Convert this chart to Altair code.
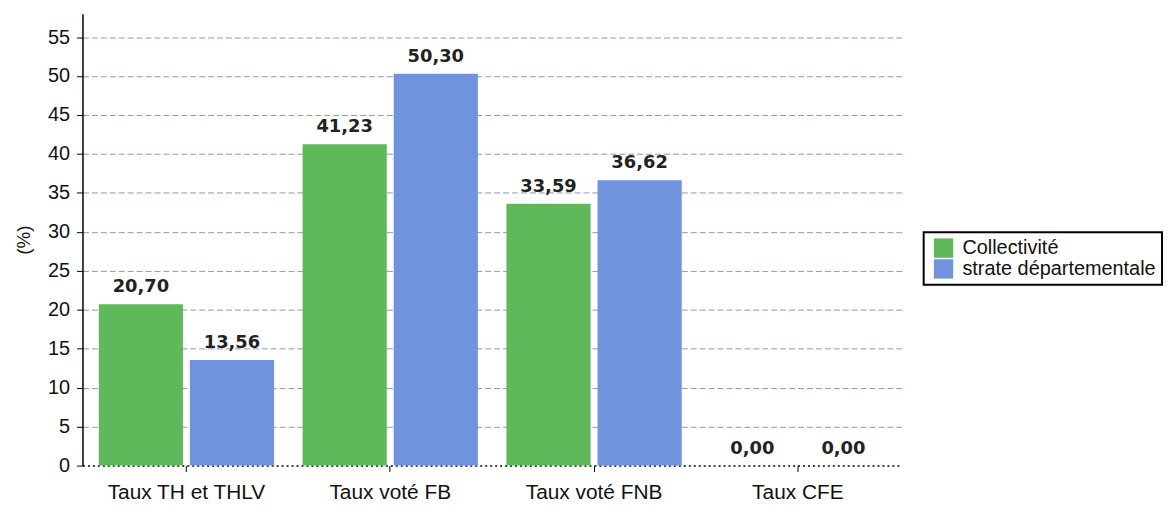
import altair as alt
import pandas as pd

categories = ["Taux TH et THLV", "Taux voté FB", "Taux voté FNB", "Taux CFE"]
series = ["Collectivité", "strate départementale"]
collectivite = [20.70, 41.23, 33.59, 0.00]
strate = [13.56, 50.30, 36.62, 0.00]
y_ticks = [0, 5, 10, 15, 20, 25, 30, 35, 40, 45, 50, 55]
colors = ["#5fb85a", "#6f93dd"]

rows = []
for c, a, b in zip(categories, collectivite, strate):
    rows.append({"cat": c, "series": series[0], "value": a, "label": f"{a:.2f}".replace(".", ",")})
    rows.append({"cat": c, "series": series[1], "value": b, "label": f"{b:.2f}".replace(".", ",")})
df = pd.DataFrame(rows)

FONT = "Liberation Sans"

base = alt.Chart(df).encode(
    x=alt.X(
        "cat:N",
        sort=categories,
        scale=alt.Scale(paddingInner=0.14, paddingOuter=0.08),
        axis=alt.Axis(
            title=None,
            labelAngle=0,
            labelFont=FONT,
            labelFontSize=21,
            labelColor="#111",
            labelPadding=10,
            labelLimit=400,
            tickSize=6,
            tickColor="#000",
            domainColor="#000",
            domainDash=[2, 3],
            domainWidth=1.5,
            grid=False,
        ),
    ),
    xOffset=alt.XOffset("series:N", sort=series, scale=alt.Scale(paddingInner=0.076)),
    y=alt.Y(
        "value:Q",
        scale=alt.Scale(domain=[0, 58], nice=False),
        axis=alt.Axis(
            values=y_ticks,
            title="(%)",
            titleFont=FONT,
            titleFontSize=19,
            titleFontWeight="normal",
            titleColor="#111",
            titlePadding=14,
            labelFont=FONT,
            labelFontSize=20,
            labelColor="#111",
            labelPadding=7,
            tickSize=6,
            tickColor="#000",
            domainColor="#000",
            domainWidth=1.5,
            grid=True,
            gridColor="#8a98ba",
            gridDash=[6, 3],
            gridWidth=1,
            gridOpacity={"condition": {"test": "datum.value === 0", "value": 0}, "value": 1},
        ),
    ),
)

bars = base.mark_bar().encode(
    color=alt.Color(
        "series:N",
        sort=series,
        scale=alt.Scale(domain=series, range=colors),
        legend=alt.Legend(
            title=None,
            orient="none",
            legendX=847,
            legendY=220,
            strokeColor="#000",
            padding=6,
            symbolType="square",
            symbolSize=380,
            symbolStrokeWidth=0,
            symbolOffset=4,
            labelFont=FONT,
            labelFontSize=20,
            labelColor="#111",
            labelOffset=9,
            labelLimit=400,
            rowPadding=1,
        ),
    )
)

text = base.mark_text(
    dy=-8,
    baseline="bottom",
    font="DejaVu Sans",
    fontWeight="bold",
    fontSize=18,
    color="#222",
).encode(text="label:N")

chart = (
    alt.layer(bars, text)
    .properties(
        width=825,
        height=455,
        autosize=alt.AutoSizeParams(type="none"),
        padding={"left": 75, "top": 4, "right": 265, "bottom": 40},
        background="white",
    )
    .configure_view(stroke=None)
    .configure_legend(strokeWidth=2)
)

chart.save("out.html", embed_options={"renderer": "svg", "actions": False})
